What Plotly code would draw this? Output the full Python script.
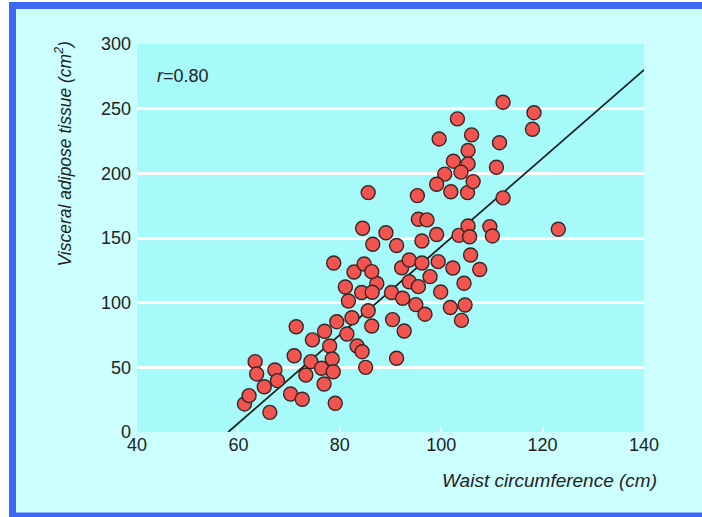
import plotly.graph_objects as go

# Waist circumference (cm)
waist = [61.2, 62.1, 63.3, 63.6, 65.1, 66.2, 67.2, 67.7, 70.3, 72.6,
         71.0, 71.4, 73.3, 74.3, 74.6, 76.4, 76.9, 77.0, 78.0, 78.5,
         78.7, 79.1, 79.4, 81.4, 81.1, 81.7, 82.4, 83.4, 84.4, 85.1,
         85.6, 86.3, 87.3, 84.3, 86.4, 82.8, 84.8, 86.3, 78.8, 85.6,
         84.5, 89.1, 86.5, 91.2, 90.2, 92.4, 90.4, 92.7, 95.0, 96.8,
         91.2, 92.2, 93.7, 96.2, 99.4, 102.3, 107.6, 105.8, 93.7, 95.5,
         97.8, 99.9, 104.5, 101.8, 104.7, 104.0, 95.3, 95.5, 97.2, 96.2,
         99.1, 103.5, 105.3, 105.6, 109.6, 110.1, 123.1, 105.3, 102.4, 105.3,
         110.9, 100.7, 103.9, 99.1, 101.9, 105.2, 106.3, 112.2, 112.2, 118.3,
         118.0, 103.2, 99.6, 106.0, 111.5]
# Visceral adipose tissue (cm^2)
vat = [21.7, 28.1, 54.4, 44.9, 35.0, 15.2, 47.9, 39.7, 29.4, 25.3,
       59.0, 81.4, 44.1, 54.4, 71.2, 49.3, 37.1, 77.9, 66.5, 56.5,
       46.6, 22.2, 85.3, 75.8, 112.1, 101.3, 88.3, 66.5, 62.1, 50.0,
       93.7, 82.0, 114.8, 107.9, 108.1, 123.7, 129.9, 124.0, 130.7, 185.1,
       157.5, 154.1, 145.2, 144.2, 107.9, 103.4, 86.9, 78.1, 98.5, 91.1,
       57.0, 127.0, 133.0, 130.7, 131.7, 126.8, 125.6, 136.9, 116.2, 112.4,
       120.1, 108.3, 115.0, 96.3, 98.2, 86.3, 182.8, 164.5, 164.0, 147.7,
       152.7, 152.0, 159.3, 151.0, 158.8, 151.6, 156.8, 217.7, 209.4, 207.3,
       204.7, 199.4, 200.9, 191.6, 185.8, 185.1, 193.6, 181.0, 255.0, 246.9,
       234.1, 242.1, 226.6, 229.7, 223.7]

# Regression line end points
fit_x = [58, 140]
fit_y = [0, 280]

x_ticks = [40, 60, 80, 100, 120, 140]
y_ticks = [0, 50, 100, 150, 200, 250, 300]
y_grid = [50, 100, 150, 200, 250]
r_text = "<i>r</i>=0.80"
x_title = "<i>Waist circumference (cm)</i>"
y_title = "<i>Visceral adipose tissue (cm<sup>2</sup>)</i>"

FONT = "Liberation Sans, Arial, sans-serif"
L, R, T, B = 137, 644, 44, 432
W, H = 702, 517
BLUE = "#3d68f4"


def px(xp):
    return (xp - L) / (R - L)


def py(yp):
    return (B - yp) / (B - T)


def frame_rect(x0, x1, y0, y1, color):
    return dict(type="rect", xref="paper", yref="paper",
                x0=px(x0), x1=px(x1), y0=py(y1), y1=py(y0),
                fillcolor=color, line=dict(width=0), layer="above")


fig = go.Figure()
fig.add_trace(go.Scatter(x=fit_x, y=fit_y, mode="lines",
                         line=dict(color="#15201f", width=1.8),
                         hoverinfo="skip", showlegend=False))
fig.add_trace(go.Scatter(x=waist, y=vat, mode="markers",
                         marker=dict(size=14, color="#f2554f",
                                     line=dict(color="#3a2424", width=1.4)),
                         showlegend=False))

shapes = [
    frame_rect(-5, 9, -5, 525, "white"),      # left white strip
    frame_rect(-5, 710, -5, 2, "white"),      # top white strip
    frame_rect(9, 710, 2, 9, BLUE),           # top blue
    frame_rect(9, 16, 2, 525, BLUE),          # left blue
    frame_rect(9, 710, 512.5, 525, BLUE),     # bottom blue
]

annotations = [
    dict(text=r_text, xref="paper", yref="paper", x=px(155), y=py(76),
         xanchor="left", yanchor="middle", showarrow=False,
         font=dict(family=FONT, size=18, color="#222")),
    dict(text=x_title, xref="paper", yref="paper",
         x=px(659), y=py(480), xanchor="right", yanchor="middle", showarrow=False,
         font=dict(family=FONT, size=19, color="#222")),
    dict(text=y_title, xref="paper", yref="paper",
         x=px(63), y=py(40), xanchor="center", yanchor="top", textangle=-90,
         showarrow=False, font=dict(family=FONT, size=17.5, color="#222")),
]

fig.update_layout(
    width=W, height=H, autosize=False,
    margin=dict(l=L, r=W - R, t=T, b=H - B, pad=0),
    paper_bgcolor="#ccffff", plot_bgcolor="#a6fafa",
    shapes=shapes, annotations=annotations,
    xaxis=dict(range=[40, 140], tickvals=x_ticks, ticktext=[str(v) for v in x_ticks],
               showgrid=False, zeroline=False, showline=False,
               ticks="inside", ticklen=5, tickwidth=2, tickcolor="white",
               tickfont=dict(family=FONT, size=18, color="#222"),
               automargin=False),
    yaxis=dict(range=[0, 300], tickvals=y_ticks, ticktext=[str(v) for v in y_ticks],
               showgrid=False, zeroline=False, showline=False, ticks="",
               tickfont=dict(family=FONT, size=18, color="#222"),
               ticklabelstandoff=5, automargin=False,
               minor=dict(tickvals=y_grid, showgrid=True, gridcolor="white",
                          gridwidth=2.5, ticks="")),
)

fig.write_html("out.html",
               config={"displayModeBar": False},
               post_script="document.body.style.margin='0';"
                           "document.body.style.overflow='hidden';")
